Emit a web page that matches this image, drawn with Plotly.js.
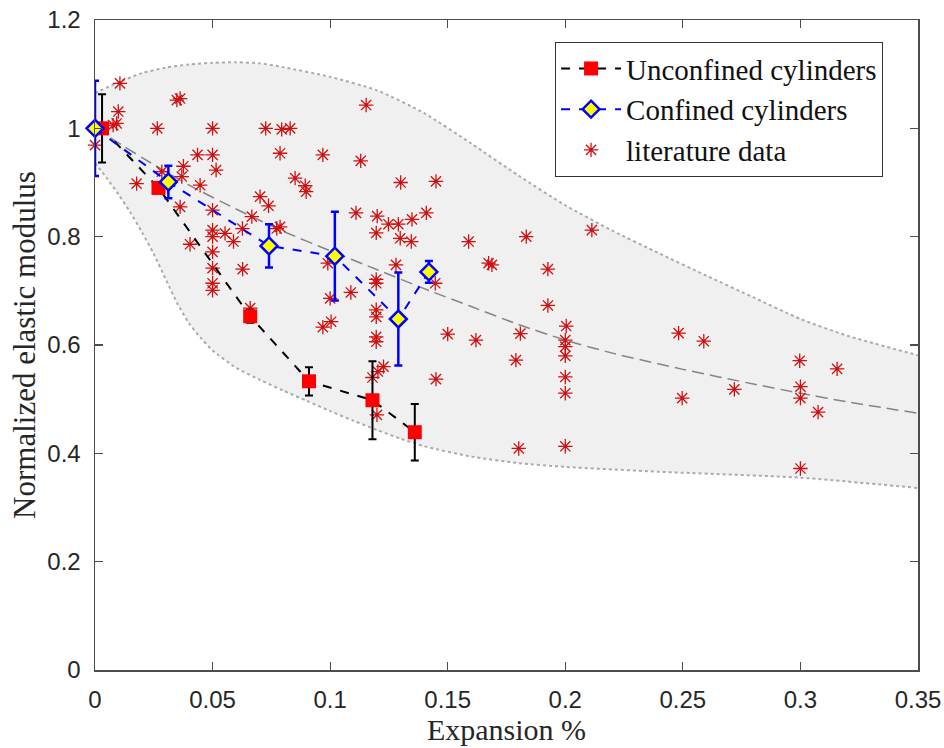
<!DOCTYPE html>
<html>
<head>
<meta charset="utf-8">
<script src="https://cdn.plot.ly/plotly-3.0.1.min.js"></script>
<style>html,body{margin:0;padding:0;background:#fff;}#chart{width:944px;height:748px;}</style>
</head>
<body>
<div id="chart"></div>
<script>
// Unconfined cylinders
const uncX = [0.003, 0.027, 0.066, 0.091, 0.118, 0.136];
const uncY = [1.0, 0.89, 0.653, 0.533, 0.498, 0.439];
const uncErr = [0.063, 0.01, 0.012, 0.026, 0.072, 0.052];

// Confined cylinders
const conX = [0.0, 0.0312, 0.074, 0.102, 0.129, 0.142];
const conY = [1.0, 0.901, 0.783, 0.764, 0.648, 0.735];
const conErr = [0.088, 0.03, 0.04, 0.082, 0.086, 0.02];

// Literature data
const litX = [0.0106,0.0099,0.0092,0.0077,0.0,0.0348,0.0362,0.0265,0.05,0.0726,0.0794,0.083,0.0787,0.0436,0.05,0.0515,0.0376,0.0369,0.0284,0.0177,
  0.0447,0.0702,0.0738,0.0851,0.0894,0.0898,0.0362,0.05,0.0667,0.0627,0.0773,0.05,0.0553,0.0589,0.0404,0.05,0.05,0.05,0.05,0.05,
  0.0628,0.1153,0.0969,0.113,0.130,0.145,0.111,0.12,0.1196,0.1248,0.129,0.1348,0.1409,0.1298,0.1345,0.1589,0.0787,0.099,0.1,0.1088,
  0.0969,0.1004,0.128,0.1196,0.1196,0.1196,0.1196,0.1196,0.1196,0.1447,0.150,0.162,0.1227,0.1203,0.118,0.1199,0.145,0.1674,0.1688,0.1834,
  0.2113,0.1926,0.1926,0.1809,0.179,0.2004,0.2,0.2,0.2,0.2,0.2,0.1802,0.2,0.2482,0.2589,0.2497,0.2719,0.2997,0.3,0.3,
  0.3156,0.3075,0.3,0.066];
const litY = [1.083,1.031,1.009,1.006,0.969,1.052,1.055,1.0,1.0,1.0,0.998,1.0,0.954,0.951,0.951,0.923,0.93,0.911,0.92,0.898,
  0.895,0.874,0.857,0.908,0.894,0.883,0.855,0.849,0.837,0.815,0.815,0.812,0.806,0.791,0.786,0.80,0.772,0.742,0.714,0.701,
  0.74,1.043,0.951,0.94,0.9,0.902,0.844,0.838,0.807,0.823,0.823,0.832,0.844,0.797,0.791,0.791,0.818,0.751,0.686,0.697,
  0.633,0.643,0.748,0.721,0.714,0.665,0.652,0.615,0.606,0.714,0.62,0.609,0.56,0.551,0.54,0.471,0.537,0.751,0.748,0.8,
  0.812,0.74,0.673,0.621,0.572,0.635,0.609,0.597,0.58,0.541,0.511,0.409,0.413,0.622,0.607,0.502,0.518,0.571,0.523,0.502,
  0.556,0.476,0.372,0.668];

// Fitted trend (gray dashed)
const fitX = [0,0.02,0.04,0.06,0.08,0.1,0.12,0.14,0.16,0.18,0.2,0.22,0.25,0.28,0.3,0.32,0.35];
const fitY = [1.0,0.946,0.895,0.851,0.81,0.774,0.739,0.704,0.671,0.638,0.609,0.585,0.555,0.528,0.511,0.495,0.474];

// Envelope band
const upX = [0,0.01,0.02,0.03,0.04,0.05,0.06,0.07,0.08,0.1,0.12,0.14,0.16,0.18,0.2,0.22,0.24,0.26,0.28,0.3,0.32,0.35];
const upY = [1.065,1.085,1.102,1.112,1.118,1.121,1.122,1.12,1.113,1.095,1.07,1.028,0.972,0.913,0.858,0.811,0.769,0.728,0.688,0.648,0.617,0.581];
const loX = [0,0.005,0.01,0.015,0.02,0.025,0.03,0.035,0.04,0.045,0.05,0.06,0.07,0.08,0.09,0.1,0.11,0.12,0.13,0.14,0.16,0.18,0.2,0.24,0.3,0.35];
const loY = [0.936,0.908,0.878,0.845,0.808,0.768,0.722,0.677,0.64,0.613,0.59,0.558,0.536,0.516,0.497,0.478,0.46,0.443,0.427,0.413,0.394,0.382,0.375,0.366,0.355,0.336];

const polyX = upX.concat(loX.slice().reverse());
const polyY = upY.concat(loY.slice().reverse());

const serif = '"Liberation Serif", "Times New Roman", serif';
const sans = '"Liberation Sans", Arial, sans-serif';

const traces = [
  {x: polyX, y: polyY, type: 'scatter', mode: 'lines', fill: 'toself', fillcolor: '#f0f0f0',
   line: {width: 0, color: 'rgba(0,0,0,0)'}, showlegend: false, hoverinfo: 'skip'},
  {x: upX, y: upY, type: 'scatter', mode: 'lines', line: {color: '#ababab', width: 2, dash: 'dot', shape: 'spline', smoothing: 0.6}, showlegend: false},
  {x: loX, y: loY, type: 'scatter', mode: 'lines', line: {color: '#ababab', width: 2, dash: 'dot', shape: 'spline', smoothing: 0.6}, showlegend: false},
  {x: fitX, y: fitY, type: 'scatter', mode: 'lines', line: {color: '#858585', width: 1.5, dash: '12px,6px', shape: 'spline', smoothing: 0.6}, showlegend: false},
  {x: litX, y: litY, type: 'scatter', mode: 'markers', name: 'literature data', showlegend: false, cliponaxis: false,
   marker: {symbol: 'asterisk-open', size: 12, color: '#d01010', line: {color: '#d01010', width: 1.3}}},
  {x: uncX, y: uncY, type: 'scatter', mode: 'lines+markers', name: 'Unconfined cylinders', cliponaxis: false,
   line: {color: '#000', width: 2, dash: 'dash'},
   marker: {symbol: 'square', size: 14, color: '#ff0000', line: {width: 0}},
   error_y: {type: 'data', array: uncErr, visible: true, color: '#000', thickness: 2, width: 4}},
  {x: conX, y: conY, type: 'scatter', mode: 'lines+markers', name: 'Confined cylinders', cliponaxis: false,
   line: {color: '#0000ff', width: 2, dash: 'dash'},
   marker: {symbol: 'diamond', size: 13, color: '#ffff00', line: {color: '#0000ff', width: 2.5}},
   error_y: {type: 'data', array: conErr, visible: true, color: '#0000ff', thickness: 2.5, width: 4}},
  {x: [null], y: [null], type: 'scatter', mode: 'markers', name: 'literature data',
   marker: {symbol: 'asterisk-open', size: 12, color: '#d01010', line: {color: '#d01010', width: 1.3}}}
];

const layout = {
  width: 944, height: 748,
  margin: {l: 95, r: 26, t: 20, b: 78},
  paper_bgcolor: '#fff', plot_bgcolor: '#fff',
  showlegend: true,
  xaxis: {
    range: [0, 0.35], dtick: 0.05, tick0: 0,
    ticks: 'inside', ticklen: 8, tickwidth: 1.2, tickcolor: '#4d4d4d',
    showline: true, linecolor: '#4d4d4d', linewidth: 1.5, mirror: 'ticks',
    showgrid: false, zeroline: false,
    tickfont: {family: sans, size: 24, color: '#262626'},
    ticklabelstandoff: 8,
    title: {text: 'Expansion %', font: {family: serif, size: 30, color: '#262626'}, standoff: 6}
  },
  yaxis: {
    range: [0, 1.2], dtick: 0.2, tick0: 0,
    ticks: 'inside', ticklen: 8, tickwidth: 1.2, tickcolor: '#4d4d4d',
    showline: true, linecolor: '#4d4d4d', linewidth: 1.5, mirror: 'ticks',
    showgrid: false, zeroline: false,
    tickfont: {family: sans, size: 24, color: '#262626'},
    ticklabelstandoff: 8,
    title: {text: 'Normalized elastic modulus', font: {family: serif, size: 31, color: '#262626'}, standoff: 2}
  },
  legend: {
    x: 0.559, y: 0.966, xanchor: 'left', yanchor: 'top',
    bgcolor: '#fff', bordercolor: '#333', borderwidth: 1,
    font: {family: serif, size: 29, color: '#111'},
    itemwidth: 60, tracegroupgap: 0
  }
};

Plotly.newPlot('chart', traces, layout, {displayModeBar: false, staticPlot: true});
</script>
</body>
</html>
